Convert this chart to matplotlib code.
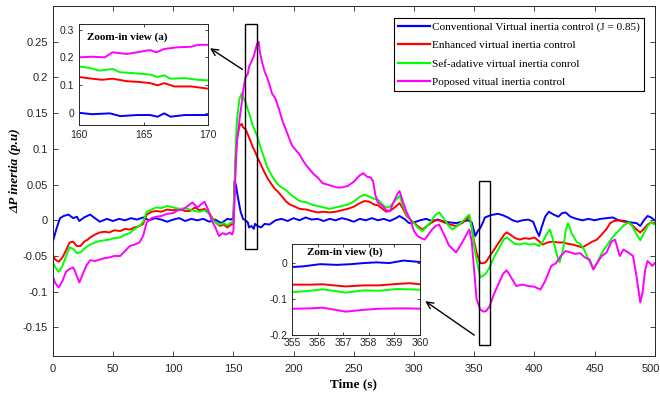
import matplotlib
matplotlib.use('Agg')
import matplotlib.pyplot as plt
from matplotlib.patches import Rectangle
from matplotlib.ticker import FuncFormatter
from matplotlib.transforms import ScaledTranslation

plt.rcParams['font.family'] = 'Liberation Sans'
plt.rcParams['axes.unicode_minus'] = False

# ---- series (time in s, delta P inertia in p.u) ----
t_conv = [0, 3, 6, 9, 13, 17, 20, 22, 26, 31, 35, 39, 45, 50, 55, 60, 65, 70, 75, 80,
          85, 90, 95, 100, 105, 110, 115, 120, 125, 130, 135, 140, 145, 148, 150, 151, 152,
          154, 156, 158, 160, 162, 163, 165, 167, 168, 170, 173, 176, 180, 185, 190, 195,
          200, 205, 210, 215, 220, 225, 230, 235, 240, 245, 250, 255, 260, 265, 270, 275,
          280, 285, 288, 292, 296, 300, 305, 310, 315, 320, 325, 330, 335, 340, 345, 348,
          351, 353, 355, 357, 359, 362, 366, 370, 374, 378, 382, 386, 390, 395, 399, 402,
          404, 406, 409, 412, 416, 420, 423, 426, 430, 435, 440, 445, 450, 455, 460, 465,
          470, 475, 480, 485, 488, 491, 494, 497, 500]
p_conv = [-0.03, -0.012, 0.003, 0.006, 0.008, 0.003, 0.005, -0.001, 0.004, 0.008, 0.003,
          -0.002, 0.002, -0.001, 0.002, 0.0, 0.003, 0.001, 0.004, 0.0, 0.003, 0.001, -0.002,
          0.001, 0.003, -0.001, 0.002, 0.0, 0.002, -0.002, 0.001, -0.004, 0.002, 0.001, 0.003,
          0.055, 0.05, 0.03, 0.012, 0.002, 0.0, -0.003, -0.01, -0.008, -0.012, -0.005, -0.008,
          -0.01, -0.005, -0.006, 0.0, 0.002, -0.001, 0.003, 0.0, 0.004, 0.001, 0.002, -0.001,
          0.002, 0.0, 0.003, 0.001, -0.002, 0.002, 0.0, 0.003, 0.0, 0.002, -0.001, 0.003,
          0.006, 0.002, -0.004, -0.003, 0.0, 0.002, -0.001, 0.001, -0.002, -0.003, -0.004,
          -0.002, 0.0, -0.003, -0.022, -0.015, -0.011, -0.004, 0.004, 0.006, 0.008, 0.009,
          0.007, 0.004, 0.0, -0.002, 0.0, 0.001, -0.002, -0.015, -0.022, -0.01, 0.005, 0.012,
          0.008, 0.005, 0.01, 0.011, 0.005, 0.002, 0.0, 0.002, 0.0, 0.002, 0.003, 0.004, 0.0,
          -0.001, -0.003, -0.004, -0.008, 0.0, 0.006, 0.004, 0.0]

t_enh = [0, 2, 5, 8, 11, 14, 17, 20, 23, 26, 29, 31, 35, 39, 43, 47, 51, 56, 60, 64, 68,
         72, 75, 78, 82, 86, 90, 95, 100, 105, 110, 114, 118, 122, 126, 130, 133, 136, 139,
         142, 145, 148, 150, 151, 152, 153, 155, 157, 158, 160, 162, 164, 166, 168, 170, 172,
         175, 178, 181, 184, 187, 190, 194, 197, 200, 205, 211, 215, 220, 225, 230, 235, 240,
         245, 250, 255, 259, 263, 267, 270, 274, 277, 280, 284, 288, 291, 294, 297, 300, 303,
         307, 310, 314, 318, 321, 325, 330, 335, 340, 344, 346, 348, 350, 352, 355, 358, 360,
         363, 367, 371, 375, 377, 380, 384, 388, 392, 396, 400, 403, 407, 411, 415, 420, 424,
         428, 432, 436, 440, 444, 448, 452, 456, 460, 463, 466, 470, 474, 478, 482, 485, 488,
         491, 494, 497, 500]
p_enh = [-0.048, -0.055, -0.058, -0.052, -0.042, -0.031, -0.03, -0.036, -0.036, -0.03,
         -0.027, -0.024, -0.02, -0.017, -0.016, -0.017, -0.014, -0.015, -0.012, -0.013, -0.01,
         -0.008, -0.005, 0.008, 0.012, 0.013, 0.012, 0.015, 0.014, 0.016, 0.013, 0.013, 0.018,
         0.014, 0.016, 0.01, 0.002, -0.004, -0.008, -0.006, -0.01, -0.006, -0.005, 0.04, 0.09,
         0.115, 0.132, 0.135, 0.13, 0.128, 0.12, 0.112, 0.103, 0.096, 0.088, 0.081, 0.07, 0.06,
         0.052, 0.045, 0.04, 0.034, 0.026, 0.022, 0.02, 0.016, 0.015, 0.013, 0.011, 0.012,
         0.011, 0.012, 0.014, 0.016, 0.019, 0.024, 0.027, 0.026, 0.022, 0.021, 0.016, 0.012,
         0.013, 0.018, 0.024, 0.016, 0.006, 0.001, -0.003, -0.008, -0.013, -0.009, -0.004,
         0.0, 0.0, -0.003, -0.006, -0.008, -0.004, 0.002, 0.006, -0.01, -0.03, -0.045, -0.06,
         -0.06, -0.058, -0.05, -0.04, -0.03, -0.02, -0.017, -0.02, -0.025, -0.027, -0.025,
         -0.026, -0.024, -0.028, -0.034, -0.031, -0.03, -0.031, -0.031, -0.033, -0.034, -0.036,
         -0.038, -0.034, -0.03, -0.027, -0.02, -0.012, -0.004, -0.001, 0.0, -0.002, -0.003,
         -0.008, -0.013, -0.017, -0.012, -0.006, -0.003, -0.004]

t_sa = [0, 2, 5, 8, 11, 14, 17, 20, 23, 26, 29, 31, 35, 39, 43, 47, 51, 56, 60, 64, 68,
        72, 75, 78, 82, 86, 90, 95, 100, 105, 110, 114, 118, 122, 126, 130, 133, 136, 139,
        142, 145, 148, 150, 151, 152, 153, 155, 157, 158, 160, 162, 164, 166, 168, 170, 172,
        175, 178, 181, 184, 187, 190, 194, 197, 200, 205, 211, 215, 220, 225, 230, 235, 240,
        245, 250, 255, 259, 263, 267, 270, 274, 277, 280, 284, 288, 291, 294, 297, 300, 303,
        307, 310, 314, 318, 321, 325, 329, 332, 336, 340, 344, 346, 348, 350, 352, 355, 358,
        360, 363, 367, 371, 375, 377, 380, 384, 388, 392, 396, 400, 404, 407, 410, 413, 416,
        419, 421, 424, 426, 428, 431, 435, 438, 441, 445, 449, 452, 456, 460, 464, 468, 471,
        475, 479, 482, 485, 488, 491, 494, 497, 500]
p_sa = [-0.058, -0.066, -0.072, -0.064, -0.05, -0.038, -0.04, -0.046, -0.045, -0.04, -0.036,
        -0.034, -0.031, -0.029, -0.028, -0.027, -0.025, -0.024, -0.02, -0.018, -0.012, -0.008,
        -0.002, 0.012, 0.015, 0.018, 0.017, 0.02, 0.018, 0.016, 0.017, 0.015, 0.013, 0.012,
        0.014, 0.009, 0.0, -0.004, -0.006, -0.004, -0.007, -0.003, -0.004, 0.05, 0.11, 0.14,
        0.17, 0.178, 0.172, 0.166, 0.155, 0.145, 0.133, 0.125, 0.117, 0.105, 0.09, 0.075,
        0.065, 0.057, 0.05, 0.046, 0.042, 0.037, 0.033, 0.027, 0.025, 0.022, 0.02, 0.018,
        0.016, 0.018, 0.02, 0.022, 0.026, 0.033, 0.036, 0.033, 0.03, 0.029, 0.022, 0.018,
        0.019, 0.027, 0.034, 0.02, 0.008, 0.001, -0.004, -0.01, -0.015, -0.01, -0.002, 0.008,
        0.011, 0.002, -0.008, -0.013, -0.008, -0.002, 0.005, 0.008, -0.01, -0.035, -0.055,
        -0.08, -0.077, -0.074, -0.065, -0.05, -0.038, -0.026, -0.024, -0.028, -0.033, -0.034,
        -0.032, -0.034, -0.033, -0.036, -0.03, -0.02, -0.013, -0.03, -0.05, -0.059, -0.04,
        -0.015, -0.004, -0.018, -0.03, -0.033, -0.04, -0.055, -0.068, -0.06, -0.046, -0.036,
        -0.026, -0.018, -0.013, -0.006, -0.003, -0.01, -0.02, -0.028, -0.018, -0.008, -0.003,
        -0.006]

t_prop = [0, 2, 5, 8, 11, 14, 17, 20, 22, 25, 28, 31, 35, 39, 43, 47, 51, 56, 60, 64, 68,
          72, 75, 78, 82, 86, 90, 95, 100, 104, 108, 112, 116, 120, 123, 126, 129, 132, 135,
          138, 141, 144, 147, 149, 150, 151, 152, 153, 155, 157, 158, 160, 162, 163, 165, 167,
          169, 170, 171, 172, 174, 176, 178, 180, 182, 185, 188, 191, 194, 197, 199, 202, 205,
          208, 211, 214, 217, 220, 224, 228, 232, 236, 240, 245, 250, 255, 258, 261, 264, 266,
          268, 270, 274, 277, 280, 283, 286, 288, 291, 294, 297, 300, 303, 306, 309, 312, 315,
          318, 321, 325, 329, 332, 335, 338, 342, 346, 348, 350, 352, 355, 358, 360, 363, 366,
          370, 374, 377, 380, 385, 390, 395, 400, 405, 409, 414, 418, 422, 426, 430, 434, 438,
          442, 446, 449, 452, 456, 460, 464, 467, 471, 474, 478, 482, 485, 488, 490, 492, 494,
          496, 498, 500]
p_prop = [-0.078, -0.088, -0.094, -0.085, -0.072, -0.068, -0.066, -0.078, -0.087, -0.075,
          -0.063, -0.056, -0.057, -0.055, -0.053, -0.052, -0.05, -0.05, -0.043, -0.036, -0.034,
          -0.031, -0.022, -0.003, 0.003, 0.005, 0.006, 0.009, 0.01, 0.014, 0.015, 0.02, 0.025,
          0.018, 0.022, 0.026, 0.015, 0.0, -0.01, -0.022, -0.018, -0.02, -0.017, -0.02, -0.015,
          0.03, 0.08, 0.11, 0.14, 0.165, 0.18, 0.2, 0.205, 0.215, 0.222, 0.23, 0.243, 0.248,
          0.25, 0.235, 0.22, 0.208, 0.2, 0.19, 0.178, 0.17, 0.155, 0.138, 0.125, 0.112, 0.104,
          0.098, 0.092, 0.083, 0.076, 0.07, 0.064, 0.06, 0.052, 0.05, 0.048, 0.046, 0.046,
          0.048, 0.054, 0.063, 0.066, 0.061, 0.06, 0.055, 0.035, 0.025, 0.02, 0.014, 0.013,
          0.025, 0.036, 0.041, 0.025, 0.011, 0.001, -0.015, -0.022, -0.025, -0.027, -0.02,
          -0.013, -0.008, -0.006, -0.02, -0.035, -0.04, -0.045, -0.037, -0.025, -0.013, -0.03,
          -0.07, -0.11, -0.125, -0.128, -0.127, -0.12, -0.105, -0.09, -0.075, -0.07, -0.078,
          -0.092, -0.09, -0.092, -0.093, -0.097, -0.085, -0.064, -0.06, -0.05, -0.043, -0.045,
          -0.047, -0.046, -0.052, -0.055, -0.069, -0.06, -0.05, -0.045, -0.03, -0.027, -0.05,
          -0.041, -0.045, -0.05, -0.08, -0.115, -0.1, -0.07, -0.057, -0.06, -0.064, -0.06]

# zoom window (a): 160-170 s
ta_prop = [160, 161, 162, 162.6, 163.7, 164.5, 165.5, 166, 166.6, 167.6, 168.7, 169.2, 170]
pa_prop = [0.2, 0.202, 0.2, 0.218, 0.212, 0.218, 0.226, 0.218, 0.23, 0.236, 0.238, 0.245, 0.245]
ta_sa = [160, 160.8, 161.6, 162.6, 163.2, 164.2, 165.5, 166.1, 166.6, 167.1, 168.2, 169.2, 170]
pa_sa = [0.167, 0.162, 0.152, 0.158, 0.146, 0.143, 0.138, 0.129, 0.135, 0.123, 0.125, 0.119, 0.117]
ta_enh = [160, 161, 161.8, 162.6, 163.7, 164.7, 165.5, 166.1, 166.6, 167.4, 168.7, 170]
pa_enh = [0.129, 0.123, 0.119, 0.123, 0.114, 0.111, 0.107, 0.099, 0.107, 0.095, 0.095, 0.087]
ta_conv = [160, 161, 162.4, 163.2, 164.5, 165.5, 166.1, 166.6, 167.1, 168.2, 170]
pa_conv = [0.0, -0.005, -0.002, -0.012, -0.008, -0.008, -0.014, -0.002, -0.014, -0.008, -0.008]

# zoom window (b): 355-360 s
tb_conv = [355, 355.45, 356.1, 356.75, 357.3, 357.8, 358.3, 358.8, 359.35, 360]
pb_conv = [-0.011, -0.009, -0.003, -0.005, -0.003, 0.0, 0.002, 0.0, 0.007, 0.003]
tb = [355, 355.7, 356.2, 357.1, 357.8, 358.4, 359.1, 359.6, 360]
pb_enh = [-0.06, -0.06, -0.059, -0.065, -0.062, -0.062, -0.058, -0.056, -0.059]
pb_sa = [-0.081, -0.077, -0.073, -0.082, -0.076, -0.077, -0.072, -0.073, -0.074]
pb_prop = [-0.127, -0.126, -0.124, -0.135, -0.13, -0.127, -0.126, -0.126, -0.127]

labels = ['Conventional Virtual inertia control (J = 0.85)',
          'Enhanced virtual inertia control',
          'Sef-adative virtual inertia conrol',
          'Poposed vitual inertia control']
colors = ['#0000ff', '#ff0000', '#00ff00', '#ff00ff']

serif = 'Liberation Serif'
grey = '#262626'
fmt = FuncFormatter(lambda v, pos: f'{v:g}')


def style_axes(a, size):
    a.tick_params(direction='in', top=True, right=True, length=3.5, width=0.6,
                  labelsize=size, colors=grey, labelcolor=grey)
    for s in a.spines.values():
        s.set_color(grey)
        s.set_linewidth(0.7)
    a.xaxis.set_major_formatter(fmt)
    a.yaxis.set_major_formatter(fmt)


fig = plt.figure(figsize=(6.6, 4.03), dpi=100)
ax = fig.add_axes([0.080, 0.1166, 0.912, 0.8685])

main = [(t_conv, p_conv), (t_enh, p_enh), (t_sa, p_sa), (t_prop, p_prop)]
for (t, p), c, lab in zip(main, colors, labels):
    ax.plot(t, p, color=c, lw=1.4, label=lab)

ax.set_xlim(0, 500)
ax.set_ylim(-0.19, 0.30)
ax.set_xticks(range(0, 501, 50))
ax.set_yticks([-0.15, -0.1, -0.05, 0, 0.05, 0.1, 0.15, 0.2, 0.25])
style_axes(ax, 8)
ax.tick_params(axis='x', pad=6)

# keep the last x label inside the figure edge
fig.canvas.draw()
last = ax.get_xticklabels()[-1]
last.set_transform(last.get_transform() + ScaledTranslation(-4 / 100, 0, fig.dpi_scale_trans))

ax.set_xlabel('Time (s)', fontfamily=serif, fontweight='bold', fontsize=9.5, labelpad=3)
ax.set_ylabel('ΔP inertia (p.u)', fontfamily=serif, fontweight='bold', fontstyle='italic',
              fontsize=9.5)
ax.yaxis.set_label_coords(-0.052, 0.53)

# zoom boxes and arrows
ax.add_patch(Rectangle((160, -0.04), 10, 0.315, fill=False, ec='k', lw=1.0, zorder=5))
ax.add_patch(Rectangle((354, -0.175), 9, 0.23, fill=False, ec='k', lw=1.0, zorder=5))
ax.annotate('', xy=(128.7, 0.243), xytext=(159.5, 0.209),
            arrowprops=dict(arrowstyle='->', color='k', lw=1.0, mutation_scale=12), zorder=6)
ax.annotate('', xy=(307.5, -0.111), xytext=(352, -0.163),
            arrowprops=dict(arrowstyle='->', color='k', lw=1.0, mutation_scale=12), zorder=6)

leg = ax.legend(loc='upper right', bbox_to_anchor=(0.982, 0.966), borderaxespad=0,
                prop={'family': serif, 'size': 8.1}, fancybox=False, framealpha=1,
                edgecolor='k', handlelength=2.9, handletextpad=0.15, labelspacing=0.75,
                borderpad=0.35)
leg.get_frame().set_linewidth(0.8)
for h in leg.get_lines():
    h.set_linewidth(1.6)

# inset (a)
axa = fig.add_axes([0.1197, 0.6898, 0.1955, 0.2506])
for (t, p), c in zip([(ta_conv, pa_conv), (ta_enh, pa_enh), (ta_sa, pa_sa), (ta_prop, pa_prop)], colors):
    axa.plot(t, p, color=c, lw=1.4)
axa.set_xlim(160, 170)
axa.set_ylim(-0.044, 0.32)
axa.set_xticks([160, 165, 170])
axa.set_yticks([0, 0.1, 0.2, 0.3])
style_axes(axa, 7.5)
axa.tick_params(length=2.5)
axa.text(0.062, 0.874, 'Zoom-in view (a)', transform=axa.transAxes, fontfamily=serif,
         fontweight='bold', fontsize=8, va='center', ha='left')

# inset (b)
axb = fig.add_axes([0.4424, 0.1687, 0.194, 0.2258])
for (t, p), c in zip([(tb_conv, pb_conv), (tb, pb_enh), (tb, pb_sa), (tb, pb_prop)], colors):
    axb.plot(t, p, color=c, lw=1.4)
axb.set_xlim(355, 360)
axb.set_ylim(-0.2, 0.053)
axb.set_xticks([355, 356, 357, 358, 359, 360])
axb.set_yticks([-0.2, -0.1, 0])
style_axes(axb, 7.5)
axb.tick_params(length=2.5, pad=2)
axb.tick_params(axis='y', pad=3)
axb.text(0.117, 0.91, 'Zom-in view (b)', transform=axb.transAxes, fontfamily=serif,
         fontweight='bold', fontsize=8, va='center', ha='left')

fig.savefig('out.png', dpi=100)
